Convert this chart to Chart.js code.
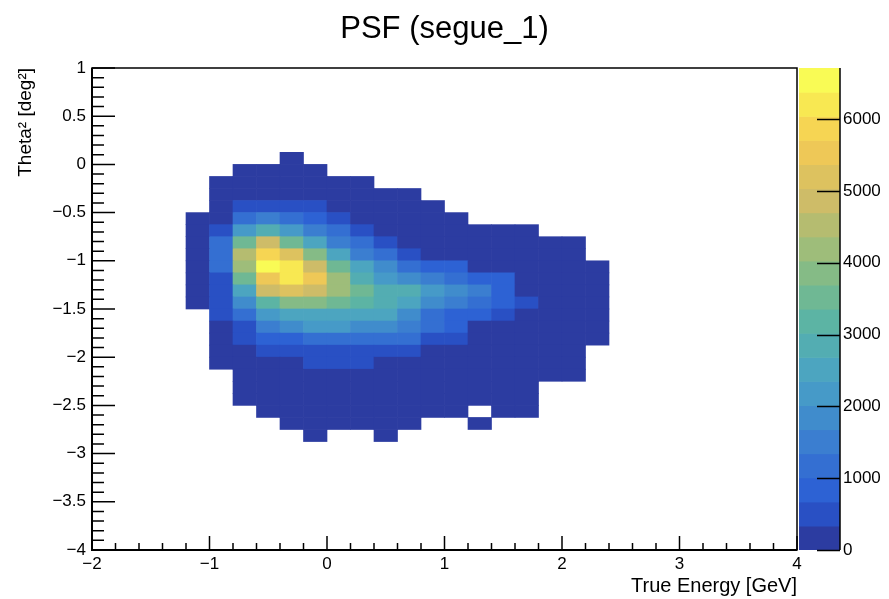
<!DOCTYPE html>
<html>
<head>
<meta charset="utf-8">
<title>PSF (segue_1)</title>
<script src="https://cdn.jsdelivr.net/npm/chart.js@4.4.1/dist/chart.umd.min.js"></script>
<style>
  html, body { margin: 0; padding: 0; background: #fff; overflow: hidden; }
  #wrap { position: relative; width: 889px; height: 599px; }
</style>
</head>
<body>
<div id="wrap"><canvas id="psf" width="889" height="599"></canvas></div>
<script>
// axis ranges and binning of the 2D histogram
const xRange = [-2, 4];
const yRange = [-4, 1];
const binWidth = 0.2;       // True Energy bin width
const binHeight = 0.125;    // Theta² bin height
const firstBinLeft = -1.2;  // left edge of column 0
const firstBinTop = 0.125;  // top edge of row 0
const zMax = 6710;          // top of the colour scale
const nContours = 20;
const zTickValues = [0, 1000, 2000, 3000, 4000, 5000, 6000];

// entries per bin, one row per Theta² bin (top to bottom), 18 energy bins each
const counts = [
  [0, 0, 0, 0, 40, 0, 0, 0, 0, 0, 0, 0, 0, 0, 0, 0, 0, 0],
  [0, 0, 60, 110, 150, 80, 0, 0, 0, 0, 0, 0, 0, 0, 0, 0, 0, 0],
  [0, 30, 180, 260, 290, 210, 120, 40, 0, 0, 0, 0, 0, 0, 0, 0, 0, 0],
  [0, 90, 300, 320, 330, 310, 220, 150, 70, 30, 0, 0, 0, 0, 0, 0, 0, 0],
  [0, 160, 420, 560, 520, 400, 300, 240, 140, 90, 40, 0, 0, 0, 0, 0, 0, 0],
  [40, 220, 1150, 1420, 1220, 900, 560, 310, 230, 150, 90, 30, 0, 0, 0, 0, 0, 0],
  [90, 450, 2150, 2900, 2200, 1500, 1150, 600, 320, 280, 190, 120, 80, 50, 20, 0, 0, 0],
  [110, 1100, 3500, 4850, 3550, 2550, 1500, 1100, 520, 330, 280, 210, 160, 100, 70, 40, 20, 0],
  [130, 1150, 4500, 5900, 5150, 3900, 2500, 1550, 1100, 550, 310, 250, 200, 150, 110, 60, 30, 0],
  [140, 1200, 4200, 6680, 6250, 4850, 3500, 2500, 1850, 1150, 850, 780, 320, 270, 190, 130, 80, 30],
  [120, 600, 3450, 5550, 6180, 5500, 4150, 2850, 2150, 1800, 1450, 1100, 800, 720, 310, 220, 140, 60],
  [100, 620, 2550, 4800, 5250, 4850, 4200, 3500, 2850, 2800, 2150, 1850, 1500, 820, 320, 240, 160, 80],
  [60, 500, 1800, 3200, 3850, 3900, 3550, 3200, 2850, 2500, 1800, 1500, 1150, 830, 520, 300, 200, 90],
  [0, 450, 1150, 2150, 2500, 2550, 2500, 2450, 2400, 1850, 1200, 850, 800, 550, 310, 230, 150, 60],
  [0, 300, 600, 1450, 1800, 2050, 2050, 1800, 1750, 1450, 1100, 800, 330, 280, 220, 150, 90, 40],
  [0, 250, 550, 900, 950, 1200, 1250, 1100, 1080, 1050, 650, 600, 300, 250, 190, 120, 70, 30],
  [0, 180, 320, 550, 620, 650, 660, 640, 600, 520, 320, 280, 230, 180, 130, 80, 40, 0],
  [0, 120, 230, 290, 320, 450, 480, 420, 320, 290, 250, 200, 170, 130, 90, 60, 30, 0],
  [0, 0, 130, 190, 230, 260, 270, 250, 220, 200, 170, 140, 110, 90, 60, 40, 20, 0],
  [0, 0, 80, 120, 160, 180, 190, 180, 160, 140, 120, 100, 70, 50, 30, 0, 0, 0],
  [0, 0, 40, 80, 110, 130, 140, 130, 120, 100, 80, 60, 45, 30, 20, 0, 0, 0],
  [0, 0, 0, 50, 70, 90, 90, 80, 70, 60, 40, 30, 0, 20, 10, 0, 0, 0],
  [0, 0, 0, 0, 20, 40, 40, 30, 30, 20, 0, 0, 10, 0, 0, 0, 0, 0],
  [0, 0, 0, 0, 0, 10, 0, 0, 10, 0, 0, 0, 0, 0, 0, 0, 0, 0]
];

// "bird" palette stops
const birdStops = [0.0, 0.125, 0.25, 0.375, 0.5, 0.625, 0.75, 0.875, 1.0];
const birdR = [0.2082, 0.0592, 0.0780, 0.0232, 0.1802, 0.5301, 0.8186, 0.9956, 0.9764];
const birdG = [0.1664, 0.3599, 0.5041, 0.6419, 0.7178, 0.7492, 0.7328, 0.7862, 0.9832];
const birdB = [0.5293, 0.8684, 0.8385, 0.7914, 0.6425, 0.4662, 0.3499, 0.1968, 0.0539];

// muted version of an rgb triple (0..1): pass it through a wide-gamut matrix in linear light
function muted(r, g, b) {
  const lin = c => c <= 0.04045 ? c / 12.92 : Math.pow((c + 0.055) / 1.055, 2.4);
  const enc = c => c <= 0.0031308 ? 12.92 * c : 1.055 * Math.pow(c, 1 / 2.4) - 0.055;
  const R = lin(r), G = lin(g), B = lin(b);
  const out = [
    0.8225 * R + 0.1774 * G,
    0.0332 * R + 0.9669 * G,
    0.0171 * R + 0.0724 * G + 0.9108 * B
  ];
  return out.map(c => Math.round(255 * Math.min(1, Math.max(0, enc(c)))));
}

function bird(f) {
  let i = 0;
  while (i < birdStops.length - 2 && f > birdStops[i + 1]) i++;
  const t = (f - birdStops[i]) / (birdStops[i + 1] - birdStops[i]);
  const mix = arr => arr[i] + (arr[i + 1] - arr[i]) * t;
  const [r, g, b] = muted(mix(birdR), mix(birdG), mix(birdB));
  return `rgb(${r},${g},${b})`;
}

// colour of contour level k, same index picking as the ROOT palette
function levelColor(k) {
  const idx = Math.floor((k + 0.99) * 255 / nContours);
  return bird(Math.min(idx, 254) / 254);
}

function colorFor(v) {
  const k = Math.min(nContours - 1, Math.max(0, Math.floor(v / zMax * nContours)));
  return levelColor(k);
}

// one floating bar per filled bin
const cells = [];
counts.forEach((row, r) => {
  const top = firstBinTop - r * binHeight;
  row.forEach((v, c) => {
    if (v <= 0) return;
    const xc = +(firstBinLeft + (c + 0.5) * binWidth).toFixed(4);
    cells.push({ x: xc, y: [+(top - binHeight).toFixed(4), +top.toFixed(4)], v: v });
  });
});

const fontFamily = '"Liberation Sans", Arial, Helvetica, sans-serif';
Chart.defaults.font.family = fontFamily;
Chart.defaults.color = '#000';

function fmt(v) {
  const s = String(Math.round(Math.abs(v) * 10) / 10);
  return (v < -1e-9 ? '\u2212' : '') + s;
}

function stepTicks(lo, hi, step) {
  const out = [];
  const n = Math.round((hi - lo) / step);
  for (let i = 0; i <= n; i++) out.push({ value: +(lo + i * step).toFixed(4) });
  return out;
}

const isMultiple = (v, m) => Math.abs(v / m - Math.round(v / m)) < 1e-6;

// frame, inward tick marks and the colour scale
const framePlugin = {
  id: 'frame',
  afterDraw(chart) {
    const { ctx, chartArea: a } = chart;
    const xs = chart.scales.x, ys = chart.scales.y, zs = chart.scales.z;
    ctx.save();
    ctx.strokeStyle = '#000';

    // colour scale boxes
    const barLeft = zs.left + 2, barRight = zs.left + 43;
    for (let k = 0; k < nContours; k++) {
      const yb = zs.getPixelForValue(k * zMax / nContours);
      const yt = zs.getPixelForValue((k + 1) * zMax / nContours);
      ctx.fillStyle = levelColor(k);
      ctx.fillRect(barLeft, yt, barRight - barLeft, yb - yt + (k > 0 ? 0.6 : 0));
    }
    ctx.lineWidth = 1.5;
    ctx.beginPath();
    ctx.moveTo(barRight, a.top);
    ctx.lineTo(barRight, a.bottom);
    zTickValues.forEach(v => {
      const y = Math.round(zs.getPixelForValue(v)) + 0.5;
      ctx.moveTo(barRight, y);
      ctx.lineTo(barRight - 23, y);
    });
    ctx.stroke();

    // plot frame
    ctx.lineWidth = 1.5;
    ctx.strokeRect(a.left, a.top, a.right - a.left, a.bottom - a.top);
    ctx.lineWidth = 2;
    ctx.beginPath();
    ctx.moveTo(a.left, a.top);
    ctx.lineTo(a.left, a.bottom);
    ctx.lineTo(a.right, a.bottom);
    ctx.stroke();

    // tick marks pointing into the plot
    ctx.lineWidth = 1.5;
    ctx.beginPath();
    xs.ticks.forEach(t => {
      const x = xs.getPixelForValue(t.value);
      const len = isMultiple(t.value, 1) ? 14 : 7;
      ctx.moveTo(x, a.bottom);
      ctx.lineTo(x, a.bottom - len);
    });
    ys.ticks.forEach(t => {
      const y = ys.getPixelForValue(t.value);
      const len = isMultiple(t.value, 0.5) ? 23 : 12;
      ctx.moveTo(a.left, y);
      ctx.lineTo(a.left + len, y);
    });
    ctx.stroke();
    ctx.restore();
  }
};

new Chart(document.getElementById('psf'), {
  type: 'bar',
  data: {
    datasets: [{
      label: 'PSF',
      data: cells,
      backgroundColor: ctx => colorFor(ctx.raw.v),
      borderWidth: 0,
      barPercentage: 1,
      categoryPercentage: 1,
      grouped: false
    }]
  },
  options: {
    responsive: false,
    animation: false,
    events: [],
    layout: { padding: 0 },
    plugins: {
      legend: { display: false },
      tooltip: { enabled: false },
      title: {
        display: true,
        text: 'PSF (segue_1)',
        color: '#000',
        font: { size: 31, weight: 'normal' },
        padding: { top: 11, bottom: 19.8 }
      }
    },
    scales: {
      x: {
        type: 'linear',
        min: xRange[0],
        max: xRange[1],
        offset: false,
        grid: { display: false, drawTicks: false, tickLength: 0 },
        border: { display: false },
        afterBuildTicks: s => { s.ticks = stepTicks(xRange[0], xRange[1], 0.2); },
        afterFit: s => { s.height = 49; },
        ticks: {
          autoSkip: false,
          maxRotation: 0,
          padding: 4,
          font: { size: 17 },
          callback: v => isMultiple(v, 1) ? fmt(v) : ''
        },
        title: {
          display: true,
          text: 'True Energy [GeV]',
          align: 'end',
          font: { size: 20 },
          padding: { top: 0, bottom: 1 }
        }
      },
      y: {
        type: 'linear',
        min: yRange[0],
        max: yRange[1],
        grid: { display: false, drawTicks: false, tickLength: 0 },
        border: { display: false },
        afterBuildTicks: s => { s.ticks = stepTicks(yRange[0], yRange[1], 0.1); },
        afterFit: s => { s.width = 92; },
        ticks: {
          autoSkip: false,
          padding: 6,
          font: { size: 17 },
          callback: v => isMultiple(v, 0.5) ? fmt(v) : ''
        },
        title: {
          display: true,
          text: 'Theta\u00B2 [deg\u00B2]',
          align: 'end',
          font: { size: 19 },
          padding: { top: 14, bottom: 0 }
        }
      },
      z: {
        type: 'linear',
        position: 'right',
        min: 0,
        max: zMax,
        // invisible tick marks push the labels past the colour boxes
        grid: { display: true, drawOnChartArea: false, drawTicks: true, tickLength: 44, color: 'rgba(0,0,0,0)' },
        border: { display: false },
        afterBuildTicks: s => { s.ticks = zTickValues.map(v => ({ value: v })); },
        afterFit: s => { s.width = 92; },
        ticks: {
          autoSkip: false,
          padding: 2,
          font: { size: 17 },
          callback: v => String(v)
        }
      }
    }
  },
  plugins: [framePlugin]
});
</script>
</body>
</html>
